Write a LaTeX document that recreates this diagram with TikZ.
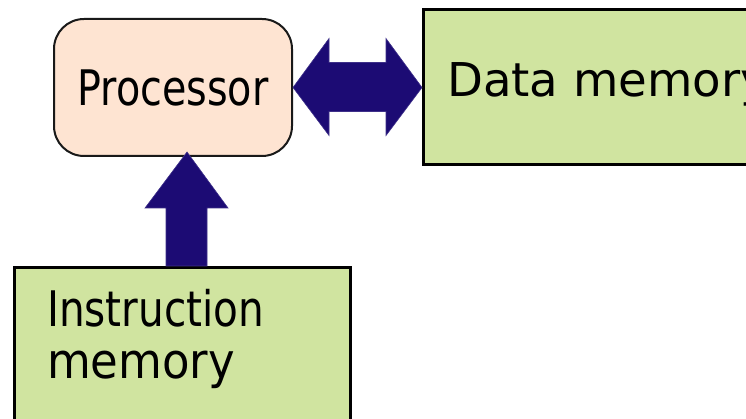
\documentclass[tikz,border=0pt]{standalone}
\usepackage{fontspec}
\usepackage{graphicx}
\setmainfont{DejaVu Sans}
\newfontfamily\condfont{DejaVu Sans Condensed}
\definecolor{peach}{HTML}{FEE4D2}
\definecolor{leaf}{HTML}{D0E4A0}
\definecolor{busblue}{HTML}{1C0B74}
\begin{document}
\begin{tikzpicture}[x=1pt,y=-1pt,
  membox/.style={draw=black,fill=leaf,line width=3pt,inner sep=0pt,anchor=north west},
  cpubox/.style={draw=black!90,fill=peach,line width=2pt,rounded corners=30pt,inner sep=0pt,
    minimum width=238pt,minimum height=137pt,font=\condfont\fontsize{49}{52}\selectfont},
  memlabel/.style={anchor=base west,inner sep=0pt,font=\condfont\fontsize{49}{52}\selectfont},
  bus/.style={fill=busblue,draw=busblue!85!white,line width=0.6pt,line join=miter}]
\useasboundingbox (0,0) rectangle (746,419);
% units
\node[cpubox] (proc) at (173,87.5) {\scalebox{0.9}[1]{Processor}};
\node[membox,minimum width=380pt,minimum height=155pt] (data) at (422,8) {};
\node[membox,minimum width=336pt,minimum height=200pt] (imem) at (13,266) {};
% labels
\node[anchor=base west,inner sep=0pt,font=\fontsize{46.6}{50}\selectfont] (datalbl) at (447,97) {Data memory};
\node[memlabel] (ilbl1) at (47,326) {\scalebox{0.92}[1]{Instruction}};
\node[memlabel] (ilbl2) at (47,378) {\scalebox{1.02}[1]{memory}};
% data bus: double arrow between processor and data memory
\path[bus] (proc.east) -- ++(36,-49) -- ++(0,24) -- ++(57,0) -- ++(0,-24)
  -- (data.west |- proc.east) -- ++(-36,48) -- ++(0,-24) -- ++(-57,0) -- ++(0,24) -- cycle;
% instruction bus: arrow from instruction memory up to processor
\coordinate (itip) at (187,152);
\path[bus] (itip) -- ++(41,56) -- ++(-21,0) -- (207,0 |- imem.north) -- (166,0 |- imem.north)
  -- ++(0,-58) -- ++(-21,0) -- cycle;
\end{tikzpicture}
\end{document}
